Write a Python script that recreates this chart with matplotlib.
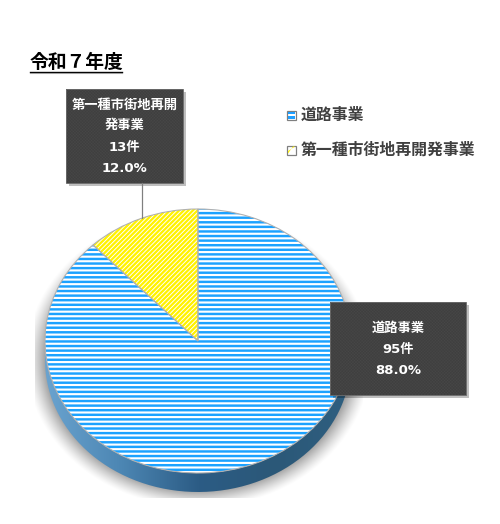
import numpy as np
import matplotlib
matplotlib.use("Agg")
import matplotlib.pyplot as plt
from matplotlib.patches import Rectangle, PathPatch
from matplotlib.path import Path

plt.rcParams['font.family'] = ['DejaVu Sans', 'Noto Sans CJK JP']

title = "令和７年度"
categories = ["道路事業", "第一種市街地再開発事業"]
counts = [95, 13]
count_labels = ["95件", "13件"]
pct_labels = ["88.0%", "12.0%"]

W, H = 500, 524
DPI = 110
fig = plt.figure(figsize=(W / DPI, H / DPI), dpi=DPI)

# overlay in pixel coordinates for the shadow and the side of the pie
bg = fig.add_axes([0, 0, 1, 1], zorder=1)
bg.axis("off")

cx, cy, a, b, depth = 198, 341, 153, 132, 19

# soft shadow, cropped to a rectangle like the original
gx, gy = np.meshgrid(np.arange(35, 362) + 0.5, np.arange(230, 498) + 0.5)
sy = cy + depth - 1
dist = (np.hypot((gx - cx) / a, (gy - sy) / b) - 1) * min(a, b)
shadow = np.zeros(gx.shape + (4,))
shadow[..., 3] = 0.36 * np.clip(1 - dist / 17, 0, 1) ** 1.3
bg.imshow(shadow, extent=(35, 362, 498, 230), aspect="auto", interpolation="bilinear")

# side of the pie, gradient clipped to the lower rim
t = np.linspace(np.pi, 0, 200)
xs = cx + a * np.cos(t)
ys = cy + b * np.sin(t)
verts = list(zip(xs, ys + depth)) + list(zip(xs[::-1], ys[::-1]))
rim = PathPatch(Path(verts + [verts[0]]), fc="none", ec="none")
bg.add_patch(rim)
grad = np.linspace(0, 1, 256).reshape(1, -1)
cmap = matplotlib.colors.LinearSegmentedColormap.from_list(
    "rim", ["#6aa3cf", "#4c86b3", "#2c5c85", "#2b5878", "#2f5f80"])
im = bg.imshow(grad, extent=(cx - a, cx + a, cy + b + depth, cy), cmap=cmap, aspect="auto")
im.set_clip_path(rim)
bg.set_xlim(0, W)
bg.set_ylim(H, 0)

# the pie itself, stretched to an ellipse
pie_ax = fig.add_axes([(cx - a) / W, 1 - (cy + b) / H, 2 * a / W, 2 * b / H], zorder=2)
wedges, _ = pie_ax.pie(counts, startangle=90, counterclock=False, radius=1,
                       colors=["white", "white"])
wedges[0].set(hatch="----", edgecolor="#1CA2FF", linewidth=0)
wedges[0].set_hatch_linewidth(1.6)
wedges[1].set(hatch="////////", edgecolor="#FFF200", linewidth=0)
wedges[1].set_hatch_linewidth(1.5)
outline, _ = pie_ax.pie(counts, startangle=90, counterclock=False, radius=1,
                        wedgeprops=dict(fc="none", ec="#b0b0b0", lw=0.7))
pie_ax.set_aspect("auto")
pie_ax.set_xlim(-1, 1)
pie_ax.set_ylim(-1, 1)

# top layer
top = fig.add_axes([0, 0, 1, 1], zorder=3)
top.set_xlim(0, W)
top.set_ylim(H, 0)
top.axis("off")
top.patch.set_alpha(0)

top.text(30, 62, title, fontsize=12.3, fontweight="bold", color="black", va="center")
top.plot([30, 122], [71.5, 71.5], color="black", lw=0.9)
top.plot([30, 122], [72.7, 72.7], color="#a0a0a0", lw=0.7)

# leader line
top.plot([142, 142], [183, 218], color="#7f7f7f", lw=0.8)


# data label boxes
def box(x0, y0, x1, y1, lines, ys):
    top.add_patch(Rectangle((x0 + 2.5, y0 + 2.5), x1 - x0, y1 - y0, fc="#000000", ec="none", alpha=0.25))
    r = Rectangle((x0, y0), x1 - x0, y1 - y0, fc="#3f3f3f", ec="#474747", lw=0, hatch="xxxxxxxxxxxx")
    r.set_hatch_linewidth(0.3)
    top.add_patch(r)
    top.add_patch(Rectangle((x0, y0), x1 - x0, y1 - y0, fc="none", ec="#6a6a6a", lw=0.6))
    for s, y in zip(lines, ys):
        top.text((x0 + x1) / 2, y, s, color="white", fontsize=8.7, fontweight="bold",
                 ha="center", va="center")


box(66, 89, 183, 183, ["第一種市街地再開", "発事業", count_labels[1], pct_labels[1]], [105, 125, 147, 169])
box(330, 302, 466, 395, [categories[0], count_labels[0], pct_labels[0]], [328, 349, 371])

# legend
leg_y = [115, 150]
for name, y, col, kind in zip(categories, leg_y, ["#1E9FFF", "#FFF200"], ["h", "d"]):
    top.add_patch(Rectangle((287, y - 4.5), 9, 9, fc="white", ec="#7f7f7f", lw=0.8))
    if kind == "h":
        top.add_patch(Rectangle((288, y - 3.5), 7, 2.5, fc=col, ec="none"))
        top.add_patch(Rectangle((288, y + 1), 7, 2.5, fc=col, ec="none"))
    else:
        top.fill([288, 293, 295, 288], [y + 3.5, y - 3.5, y - 3.5, y + 1], color=col, lw=0)
    top.text(301, y, name, fontsize=10.4, fontweight="bold", color="#404040", va="center")

fig.savefig("out.png", dpi=DPI, facecolor="white")
